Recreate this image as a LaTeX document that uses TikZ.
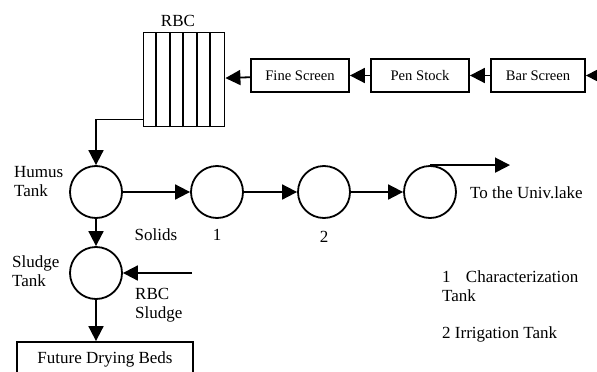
\documentclass[tikz,border=0pt]{standalone}
\usepackage{fontspec}
\setmainfont{Liberation Serif}
\usetikzlibrary{arrows.meta,positioning}

\begin{document}
\begin{tikzpicture}[
  x=1pt,y=-1pt,
  unitbox/.style={draw,line width=1.8pt,minimum width=98pt,minimum height=33pt,
                  inner sep=0pt,font=\fontsize{14.6}{17}\selectfont},
  tank/.style={draw,circle,line width=1.8pt,minimum size=52pt,inner sep=0pt},
  label/.style={font=\fontsize{17}{19}\selectfont,align=left,inner sep=0pt},
  arrow/.style={-{Triangle[length=15pt,width=15pt]},line width=1.8pt}
]
\useasboundingbox (0,0) rectangle (597,372);
% treatment units
\node[draw,line width=1.8pt,minimum width=81pt,minimum height=94pt,inner sep=0pt] (rbc) at (184,79.5) {};
\foreach \i in {1,...,5}
  \draw[line width=1.8pt] ([xshift=\i*13.5pt]rbc.south west) -- ([xshift=\i*13.5pt]rbc.north west);
\node[label,above=5pt of rbc,xshift=-6pt] (rbclabel) {RBC};
\node[unitbox] (fine) at (300,75.5) {Fine Screen};
\node[unitbox] (pen) at (420,75.5) {Pen Stock};
\node[unitbox,minimum width=94pt] (bar) at (538,75.5) {Bar Screen};
\coordinate (inflow) at (600,75.5);
% tanks
\node[tank] (humus) at (96,192) {};
\node[tank] (char) at (217,192) {};
\node[tank] (irr) at (324,192) {};
\node[tank] (out) at (430,192) {};
\node[tank] (sludge) at (96,273) {};
\coordinate (lake) at (510,192);
\coordinate (rbcsl) at (192,273);
\node[unitbox,minimum width=176pt,minimum height=34pt] (beds) at (105,359) {\fontsize{17}{19}\selectfont Future Drying Beds};
% labels
\node[label,anchor=west] (humuslabel) at (14,181.5) {Humus\\Tank};
\node[label,anchor=west] (sludgelabel) at (12,271.5) {Sludge\\Tank};
\node[label] (solids) at (156,235) {Solids};
\node[label] (one) at (217,235) {1};
\node[label] (two) at (324,237) {2};
\node[label,anchor=west] (rbcsludge) at (135,305) {RBC\\Sludge};
\node[label,anchor=west] (lakelabel) at (470,193) {To the Univ.lake};
\node[label,anchor=west] (legone) at (442,286) {1\hspace{0.9em}Characterization\\Tank};
\node[label,anchor=west] (legtwo) at (442,334) {2 Irrigation Tank};

\draw[arrow] (inflow) -- (bar);
\draw[arrow] (bar) -- (pen);
\draw[arrow] (pen) -- (fine);
\draw[arrow] (fine) -- (rbc);
\draw[arrow] ([yshift=8pt]rbc.south west) -| (humus.north);
\draw[arrow] (humus) -- (char);
\draw[arrow] (char) -- (irr);
\draw[arrow] (irr) -- (out);
\draw[arrow] (out.north) -- (out.north -| lake);
\draw[arrow] (humus) -- (sludge);
\draw[arrow] (rbcsl) -- (sludge);
\draw[arrow] (sludge.south) -- (sludge.south |- beds.north);
\end{tikzpicture}
\end{document}
